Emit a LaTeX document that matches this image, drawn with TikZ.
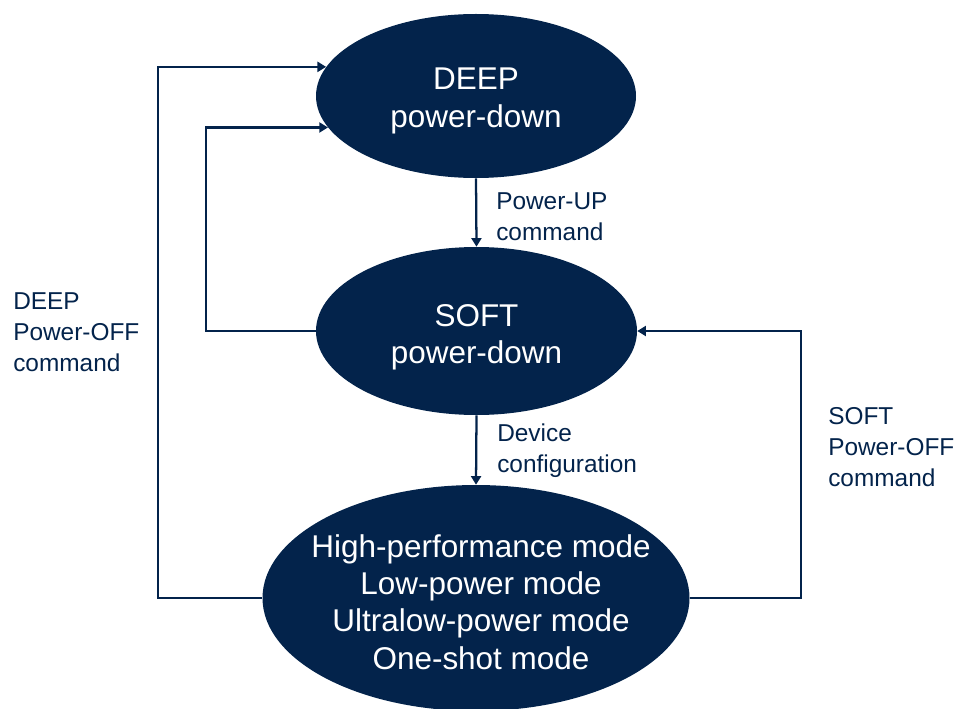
\documentclass[tikz,border=0pt]{standalone}
\usepackage{fontspec}
\setmainfont{Liberation Sans}
\usetikzlibrary{arrows.meta,shapes.geometric}
\definecolor{stnavy}{RGB}{3,35,75}
\begin{document}
\begin{tikzpicture}[x=0.75pt,y=-0.75pt,
  state/.style={ellipse, fill=stnavy, draw=none, inner sep=0pt},
  statetext/.style={text=white, align=center, inner sep=0pt, font=\fontsize{23.6}{28}\selectfont},
  lbl/.style={text=stnavy, align=left, anchor=west, inner sep=0pt, font=\fontsize{18.3}{23.25}\selectfont},
  conn/.style={draw=stnavy, line width=1.7pt, -{Triangle[length=6.5pt,width=7.5pt]}}]
\useasboundingbox (0,0) rectangle (962,709);
\node[state, minimum width=240pt, minimum height=123pt] (deep) at (476,96) {};
\node[state, minimum width=240.75pt, minimum height=126pt] (soft) at (476.5,331) {};
\node[state, minimum width=320.25pt, minimum height=169.5pt] (mode) at (476,598) {};
\node[statetext] (deeptxt) at (476,101) {DEEP\\power-down};
\node[statetext] (softtxt) at (476.5,337) {SOFT\\power-down};
\node[statetext] (modetxt) at (481,602) {High-performance mode\\Low-power mode\\Ultralow-power mode\\One-shot mode};
\coordinate (L1) at (158,0);
\coordinate (L2) at (206,0);
\coordinate (R1) at (801,0);
\draw[conn] (mode.west) -| (L1 |- deep.169) -- (deep.169);
\draw[conn] (soft.west) -| (L2 |- deep.192) -- (deep.192);
\draw[conn] (mode.east) -| (R1 |- soft.east) -- (soft.east);
\draw[conn] (deep.south) -- (soft.north);
\draw[conn] (soft.south) -- (mode.north);
\node[lbl] (pu) at (496,217) {Power-UP\\command};
\node[lbl] (dc) at (497,451) {Device\\configuration};
\node[lbl] (dpo) at (13,332) {DEEP\\Power-OFF\\command};
\node[lbl] (spo) at (828,447) {SOFT\\Power-OFF\\command};
\end{tikzpicture}
\end{document}
